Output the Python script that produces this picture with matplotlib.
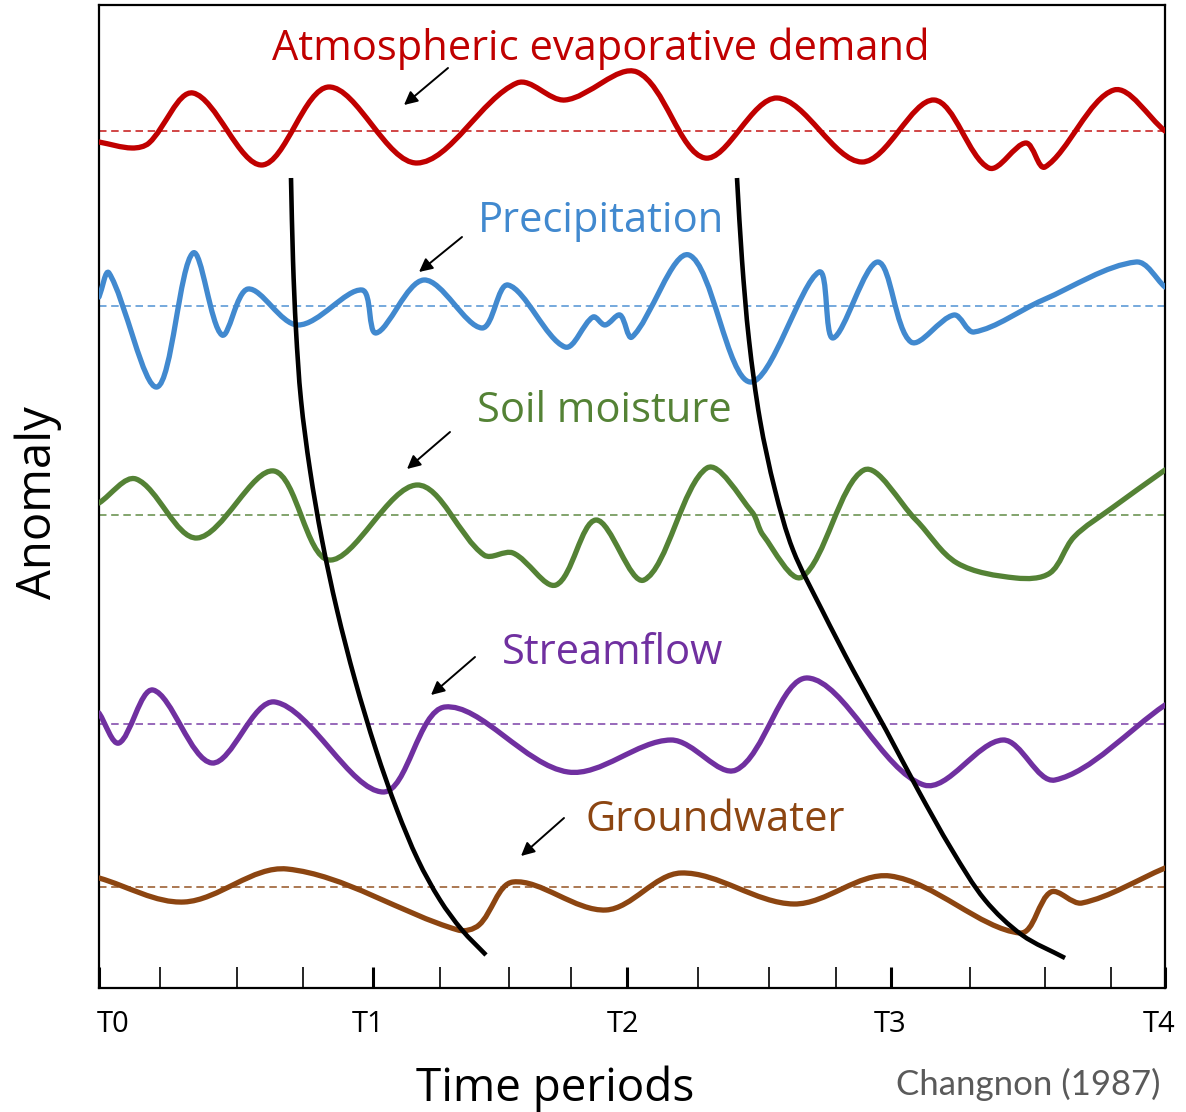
import numpy as np
import matplotlib
matplotlib.use("Agg")
import matplotlib.pyplot as plt
from matplotlib.path import Path
from matplotlib.patches import PathPatch

# ---------------- data (x: time units from T0, y: anomaly units) ----------------
period_labels = ["T0", "T1", "T2", "T3", "T4"]
period_pos = [0, 274, 528, 792, 1066]
label_pos = [14, 269, 524, 791, 1060]
minor_pos = [61, 138, 204, 341, 410, 472, 599, 670, 737, 871, 946, 1012]

series_names = ["Atmospheric evaporative demand", "Precipitation", "Soil moisture",
                "Streamflow", "Groundwater"]
series_colors = ["#C00000", "#4189CF", "#548235", "#7030A0", "#8C4511"]
series_levels = [857, 682, 473, 264, 101]

red_x = [0, 33, 50, 94, 163, 230, 318, 418, 466, 538, 606, 678, 763, 835, 890, 927, 946, 1015, 1066]
red_y = [-11, -17, -12, 38, -34, 44, -32, 48, 31, 59, -27, 33, -31, 31, -37, -12, -36, 41, 0]

blue_x = [0, 10, 58, 94, 123, 149, 199, 263, 277, 325, 383, 409, 466, 494, 506, 521, 533,
          590, 651, 720, 734, 779, 812, 855, 875, 944, 1037, 1066]
blue_y = [9, 33, -81, 53, -29, 17, -19, 16, -27, 26, -22, 21, -41, -11, -19, -9, -31,
          51, -76, 34, -32, 44, -36, -9, -26, 6, 44, 19]

green_x = [0, 37, 98, 175, 230, 318, 385, 414, 457, 497, 545, 608, 653, 664, 703, 765,
           817, 858, 917, 951, 975, 1013, 1066]
green_y = [12, 36, -23, 44, -45, 30, -40, -38, -70, -5, -65, 47, 3, -20, -62, 45,
           -5, -48, -63, -58, -22, 7, 45]

purple_x = [0, 20, 54, 113, 176, 284, 346, 469, 572, 637, 709, 825, 904, 956, 1066]
purple_y = [11, -19, 34, -39, 22, -68, 17, -48, -16, -46, 46, -61, -16, -56, 19]

brown_x = [0, 85, 188, 359, 380, 414, 507, 582, 695, 791, 921, 952, 983, 1066]
brown_y = [9, -15, 18, -43, -38, 5, -23, 14, -17, 11, -46, -5, -16, 19]

front1_x = [192, 194, 197, 202, 211, 223, 238, 256, 277, 298, 319, 341, 363, 387]
front1_y = [810, 728, 658, 588, 518, 448, 378, 308, 238, 178, 128, 88, 58, 33]
front2_x = [638, 643, 650, 661, 676, 694, 723, 754, 787, 819, 853, 886, 923, 966]
front2_y = [810, 728, 648, 568, 498, 438, 378, 318, 258, 198, 138, 88, 53, 30]

# label anchor (left x, baseline y) and arrow (tail, head)
label_x = [173, 379, 378, 403, 486]
label_y = [928, 756, 566, 324, 157]
arrow_tail = [(349, 920), (363, 751), (351, 556), (376, 331), (465, 170)]
arrow_head = [(305, 883), (320, 716), (308, 519), (332, 293), (422, 132)]

series_x = [red_x, blue_x, green_x, purple_x, brown_x]
series_y = [red_y, blue_y, green_y, purple_y, brown_y]


def smooth_path(xs, ys):
    """Chord-length Catmull-Rom through the read points, drawn as cubic Beziers."""
    P = np.column_stack([xs, ys]).astype(float)
    n = len(P)
    d = np.hypot(*np.diff(P, axis=0).T)
    m = np.zeros_like(P)
    m[0] = (P[1] - P[0]) / d[0]
    m[-1] = (P[-1] - P[-2]) / d[-1]
    for i in range(1, n - 1):
        m[i] = (P[i + 1] - P[i - 1]) / (d[i - 1] + d[i])
    verts = [P[0]]
    codes = [Path.MOVETO]
    for i in range(n - 1):
        verts += [P[i] + m[i] * d[i] / 3.0, P[i + 1] - m[i + 1] * d[i] / 3.0, P[i + 1]]
        codes += [Path.CURVE4] * 3
    return Path(verts, codes)


plt.rcParams["font.family"] = ["Open Sans", "DejaVu Sans"]

fig = plt.figure(figsize=(11.86, 11.12), dpi=100)
ax = fig.add_axes([99 / 1186, 1 - 988 / 1112, 1066 / 1186, 983 / 1112])
ax.set_xlim(0, 1066)
ax.set_ylim(0, 983)

for sp in ax.spines.values():
    sp.set_linewidth(1.6)
    sp.set_color("black")

# baselines and series
for xs, ys, lvl, col in zip(series_x, series_y, series_levels, series_colors):
    ax.axhline(lvl, color=col, lw=1.2, ls=(0, (4.5, 2.8)), alpha=0.85, zorder=2)
    yy = np.asarray(ys) + lvl
    ax.add_patch(PathPatch(smooth_path(xs, yy), fill=False, ec=col, lw=3.8,
                           capstyle="round", joinstyle="round", zorder=3))

# drought propagation fronts
for fx, fy in [(front1_x, front1_y), (front2_x, front2_y)]:
    ax.add_patch(PathPatch(smooth_path(fx, fy), fill=False, ec="black", lw=3.3,
                           capstyle="butt", zorder=4))

# labels & arrows
for name, col, lx, ly, t, h in zip(series_names, series_colors, label_x, label_y,
                                   arrow_tail, arrow_head):
    ax.text(lx, ly, name, color=col, fontsize=30, ha="left", va="baseline", zorder=5)
    ax.annotate("", xy=h, xytext=t,
                arrowprops=dict(arrowstyle="-|>", color="black", lw=1.4,
                                mutation_scale=20, shrinkA=0, shrinkB=0), zorder=5)

# ticks
ax.set_yticks([])
ax.set_xticks(period_pos)
ax.set_xticklabels([])
ax.set_xticks(minor_pos, minor=True)
ax.tick_params(axis="x", which="major", direction="in", length=15, width=2.2, color="black")
ax.tick_params(axis="x", which="minor", direction="in", length=15, width=1.2, color="black")
for p, lab in zip(label_pos, period_labels):
    ax.text(p, -36, lab, fontsize=21, ha="center", va="center", clip_on=False)

ax.set_xlabel("Time periods", fontsize=33)
ax.xaxis.set_label_coords(456 / 1066, -0.079)
ax.set_ylabel("Anomaly", fontsize=34)
ax.yaxis.set_label_coords(-0.035, 0.494)

ax.text(1061, -107, "Changnon (1987)", fontsize=25, color="#5a5a5a", family="Lato",
        ha="right", va="baseline", clip_on=False)

fig.savefig("out.png", dpi=100)
